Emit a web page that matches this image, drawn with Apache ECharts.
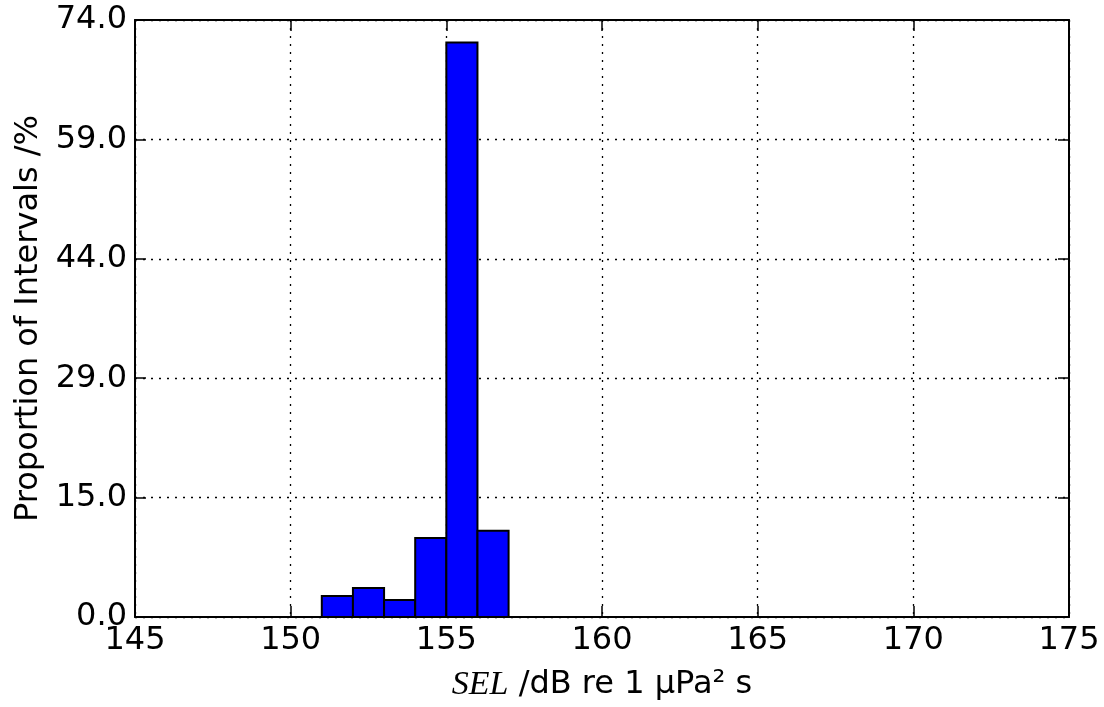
<!DOCTYPE html>
<html>
<head>
<meta charset="utf-8">
<title>SEL histogram</title>
<script src="https://cdn.jsdelivr.net/npm/echarts@6/dist/echarts.min.js"></script>
<style>
  html, body { margin: 0; padding: 0; background: #ffffff; }
  #chart { width: 1104px; height: 707px; }
</style>
</head>
<body>
<div id="chart"></div>
<script>
// Histogram bins (dB re 1 µPa² s) and share of intervals in each bin (%)
const binStarts = [151, 152, 153, 154, 155, 156];
const binEnds   = [152, 153, 154, 155, 156, 157];
const proportions = [2.6, 3.6, 2.1, 9.8, 71.2, 10.7];

// Axis ranges and tick labels
const xMin = 145, xMax = 175, xStep = 5;
const yMin = 0, yMax = 74, yStep = 14.8;
const yTickLabels = ['0.0', '15.0', '29.0', '44.0', '59.0', '74.0'];

const FONT = 'DejaVu Sans';
const chart = echarts.init(document.getElementById('chart'), null, { renderer: 'canvas' });

const frameLine = { show: true, onZero: false, lineStyle: { color: '#000', width: 2 } };
const innerTick = { show: true, inside: true, length: 11, lineStyle: { color: '#000', width: 1.5 } };
const gridDots = { show: true, lineStyle: { color: '#000', width: 1.3, type: [2, 6] } };

chart.setOption({
  animation: false,
  backgroundColor: '#ffffff',
  grid: { left: 135, right: 35, top: 20, bottom: 86, containLabel: false },
  xAxis: [
    {
      type: 'value', position: 'bottom', min: xMin, max: xMax, interval: xStep,
      axisLine: frameLine, axisTick: innerTick, splitLine: gridDots,
      axisLabel: { color: '#000', fontFamily: FONT, fontSize: 32, margin: 8 },
      name: '{it|SEL} /dB re 1 μPa² s',
      nameLocation: 'middle', nameGap: 51,
      nameTextStyle: {
        color: '#000', fontFamily: FONT, fontSize: 32,
        rich: { it: { fontFamily: 'Liberation Serif', fontStyle: 'italic', fontSize: 34, color: '#000' } }
      }
    },
    {
      type: 'value', position: 'top', min: xMin, max: xMax, interval: xStep,
      axisLine: frameLine, axisTick: innerTick, splitLine: { show: false },
      axisLabel: { show: false }
    }
  ],
  yAxis: [
    {
      type: 'value', position: 'left', min: yMin, max: yMax, interval: yStep,
      axisLine: frameLine, axisTick: innerTick, splitLine: gridDots,
      axisLabel: {
        color: '#000', fontFamily: FONT, fontSize: 32, margin: 8,
        formatter: v => yTickLabels[Math.round(v / yStep)]
      },
      name: 'Proportion of Intervals /%',
      nameLocation: 'middle', nameGap: 89, nameRotate: 90,
      nameTextStyle: { color: '#000', fontFamily: FONT, fontSize: 32 }
    },
    {
      type: 'value', position: 'right', min: yMin, max: yMax, interval: yStep,
      axisLine: frameLine, axisTick: innerTick, splitLine: { show: false },
      axisLabel: { show: false }
    }
  ],
  series: [{
    type: 'custom',
    xAxisIndex: 0, yAxisIndex: 0,
    data: binStarts.map((s, i) => [s, binEnds[i], proportions[i]]),
    encode: { x: [0, 1], y: 2 },
    z: 3,
    renderItem: (params, api) => {
      const topLeft = api.coord([api.value(0), api.value(2)]);
      const bottomRight = api.coord([api.value(1), 0]);
      return {
        type: 'rect',
        shape: {
          x: topLeft[0], y: topLeft[1],
          width: bottomRight[0] - topLeft[0],
          height: bottomRight[1] - topLeft[1]
        },
        style: { fill: '#0000ff', stroke: '#000', lineWidth: 2 }
      };
    }
  }]
});
</script>
</body>
</html>
